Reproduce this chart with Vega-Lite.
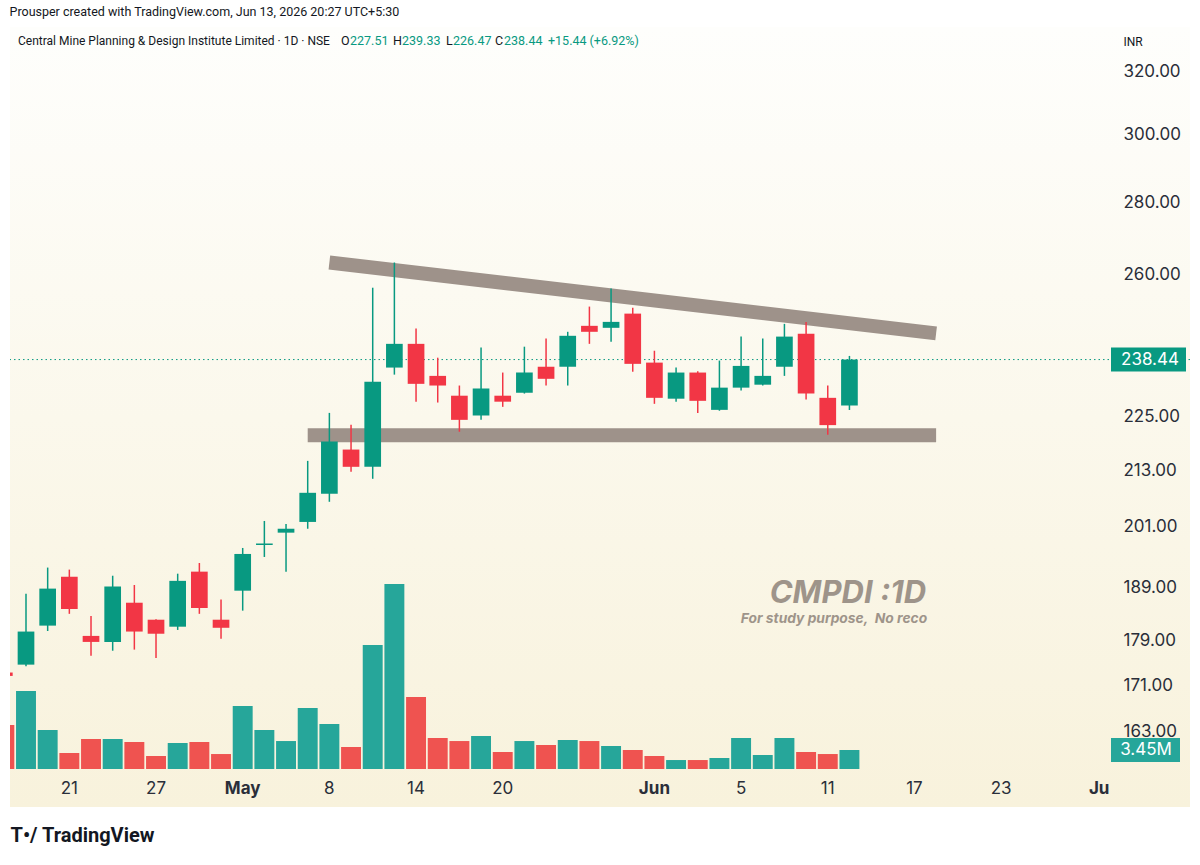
{
  "$schema": "https://vega.github.io/schema/vega-lite/v6.json",
  "width": 1180,
  "height": 780,
  "autosize": {"type": "none"},
  "padding": {"left": 10, "top": 27, "right": 10, "bottom": 58},
  "background": "#ffffff",
  "title": {
    "text": "Prousper created with TradingView.com, Jun 13, 2026 20:27 UTC+5:30",
    "anchor": "start",
    "font": "Roboto",
    "fontSize": 12.5,
    "fontWeight": "normal",
    "color": "#131722",
    "baseline": "middle",
    "offset": 3
  },
  "config": {"view": {"stroke": null}, "font": "Roboto"},
  "datasets": {
    "ohlc": [
      {"date": "2026-04-16", "open": 173.2, "high": 174.6, "low": 171.8, "close": 172.6, "volume": 7990000},
      {"date": "2026-04-17", "open": 174.6, "high": 187.7, "low": 174.3, "close": 180.6, "volume": 14160000},
      {"date": "2026-04-20", "open": 181.7, "high": 192.8, "low": 180.7, "close": 188.7, "volume": 7080000},
      {"date": "2026-04-21", "open": 191.0, "high": 192.4, "low": 183.9, "close": 184.8, "volume": 2910000},
      {"date": "2026-04-22", "open": 179.8, "high": 183.5, "low": 176.2, "close": 178.7, "volume": 5450000},
      {"date": "2026-04-23", "open": 178.7, "high": 191.2, "low": 177.1, "close": 189.1, "volume": 5450000},
      {"date": "2026-04-24", "open": 186.0, "high": 189.4, "low": 177.3, "close": 180.6, "volume": 4900000},
      {"date": "2026-04-27", "open": 182.8, "high": 182.9, "low": 175.8, "close": 180.2, "volume": 2360000},
      {"date": "2026-04-28", "open": 181.5, "high": 191.6, "low": 180.9, "close": 190.2, "volume": 4720000},
      {"date": "2026-04-29", "open": 192.0, "high": 193.7, "low": 183.9, "close": 185.0, "volume": 4900000},
      {"date": "2026-04-30", "open": 182.8, "high": 186.6, "low": 179.3, "close": 181.3, "volume": 2720000},
      {"date": "2026-05-04", "open": 188.3, "high": 196.7, "low": 184.5, "close": 195.5, "volume": 11440000},
      {"date": "2026-05-05", "open": 197.3, "high": 202.2, "low": 194.9, "close": 197.6, "volume": 7080000},
      {"date": "2026-05-06", "open": 199.8, "high": 201.6, "low": 192.0, "close": 200.6, "volume": 5080000},
      {"date": "2026-05-07", "open": 202.0, "high": 215.0, "low": 200.6, "close": 208.1, "volume": 11080000},
      {"date": "2026-05-08", "open": 207.9, "high": 225.8, "low": 206.2, "close": 219.3, "volume": 8170000},
      {"date": "2026-05-11", "open": 217.5, "high": 223.1, "low": 212.6, "close": 213.7, "volume": 4000000},
      {"date": "2026-05-12", "open": 213.7, "high": 256.6, "low": 211.1, "close": 233.1, "volume": 22520000},
      {"date": "2026-05-13", "open": 236.5, "high": 263.3, "low": 234.8, "close": 242.3, "volume": 33590000},
      {"date": "2026-05-14", "open": 242.3, "high": 246.1, "low": 228.4, "close": 232.6, "volume": 13070000},
      {"date": "2026-05-15", "open": 234.5, "high": 238.9, "low": 228.2, "close": 232.2, "volume": 5630000},
      {"date": "2026-05-18", "open": 229.8, "high": 232.2, "low": 221.5, "close": 224.2, "volume": 5080000},
      {"date": "2026-05-19", "open": 225.2, "high": 241.4, "low": 224.2, "close": 231.5, "volume": 5990000},
      {"date": "2026-05-20", "open": 229.8, "high": 235.3, "low": 227.2, "close": 228.4, "volume": 3090000},
      {"date": "2026-05-21", "open": 230.5, "high": 241.6, "low": 230.3, "close": 235.3, "volume": 5080000},
      {"date": "2026-05-22", "open": 236.7, "high": 243.6, "low": 232.2, "close": 233.8, "volume": 4360000},
      {"date": "2026-05-25", "open": 236.7, "high": 245.3, "low": 232.2, "close": 244.3, "volume": 5270000},
      {"date": "2026-05-26", "open": 246.8, "high": 251.7, "low": 242.3, "close": 245.3, "volume": 5080000},
      {"date": "2026-05-28", "open": 246.3, "high": 256.4, "low": 242.8, "close": 247.8, "volume": 4180000},
      {"date": "2026-05-29", "open": 249.9, "high": 251.4, "low": 235.5, "close": 237.4, "volume": 3450000},
      {"date": "2026-06-01", "open": 237.7, "high": 240.6, "low": 227.9, "close": 229.3, "volume": 2360000},
      {"date": "2026-06-02", "open": 229.1, "high": 236.5, "low": 228.4, "close": 235.3, "volume": 1630000},
      {"date": "2026-06-03", "open": 235.3, "high": 235.6, "low": 225.8, "close": 228.6, "volume": 1630000},
      {"date": "2026-06-04", "open": 226.5, "high": 238.2, "low": 226.3, "close": 231.7, "volume": 2000000},
      {"date": "2026-06-05", "open": 231.7, "high": 244.1, "low": 231.0, "close": 236.9, "volume": 5630000},
      {"date": "2026-06-08", "open": 232.4, "high": 243.6, "low": 232.2, "close": 234.5, "volume": 2540000},
      {"date": "2026-06-09", "open": 236.7, "high": 247.3, "low": 234.5, "close": 244.1, "volume": 5630000},
      {"date": "2026-06-10", "open": 244.8, "high": 247.8, "low": 228.9, "close": 230.3, "volume": 3090000},
      {"date": "2026-06-11", "open": 229.3, "high": 232.2, "low": 220.8, "close": 223.0, "volume": 2720000},
      {"date": "2026-06-12", "open": 227.51, "high": 239.33, "low": 226.47, "close": 238.44, "volume": 3450000}
    ],
    "lines": [
      {"line": "resistance", "date": "2026-05-08", "price": 263.3},
      {"line": "resistance", "date": "2026-06-18", "price": 244.9},
      {"line": "support", "date": "2026-05-07", "price": 220.7},
      {"line": "support", "date": "2026-06-18", "price": 220.7}
    ]
  },
  "data": {"name": "ohlc"},
  "resolve": {"scale": {"y": "independent"}},
  "layer": [
    {
      "layer": [
        {
          "data": {"values": [{}]},
          "mark": {
            "type": "rect",
            "fill": {
              "gradient": "linear", "x1": 0, "y1": 0, "x2": 0, "y2": 1,
              "stops": [{"offset": 0, "color": "#fefefc"}, {"offset": 1, "color": "#f8f2dc"}]
            }
          },
          "encoding": {}
        },
        {
          "data": {"name": "lines"},
          "mark": {"type": "line", "strokeWidth": 14, "strokeCap": "butt", "color": "#9e928a", "clip": true},
          "encoding": {
            "x": {
              "field": "date", "type": "ordinal", "title": "T•/  TradingView",
              "scale": {
                "type": "band", "paddingInner": 0, "paddingOuter": 0, "range": [-16.5, 1110.3],
                "domain": ["2026-04-16","2026-04-17","2026-04-20","2026-04-21","2026-04-22","2026-04-23","2026-04-24","2026-04-27","2026-04-28","2026-04-29","2026-04-30","2026-05-04","2026-05-05","2026-05-06","2026-05-07","2026-05-08","2026-05-11","2026-05-12","2026-05-13","2026-05-14","2026-05-15","2026-05-18","2026-05-19","2026-05-20","2026-05-21","2026-05-22","2026-05-25","2026-05-26","2026-05-28","2026-05-29","2026-06-01","2026-06-02","2026-06-03","2026-06-04","2026-06-05","2026-06-08","2026-06-09","2026-06-10","2026-06-11","2026-06-12","2026-06-15","2026-06-16","2026-06-17","2026-06-18","2026-06-19","2026-06-22","2026-06-23","2026-06-24","2026-06-25","2026-06-29","2026-06-30","2026-07-01"]
              },
              "axis": {
                "orient": "bottom", "offset": -38, "zindex": 2,
                "values": ["2026-04-21","2026-04-27","2026-05-04","2026-05-08","2026-05-14","2026-05-20","2026-06-01","2026-06-05","2026-06-11","2026-06-17","2026-06-23","2026-07-01"],
                "labelExpr": "datum.value == '2026-05-04' ? 'May' : datum.value == '2026-06-01' ? 'Jun' : datum.value == '2026-07-01' ? 'Ju' : '' + toNumber(slice(datum.value, 8))",
                "labelFontWeight": {"condition": {"test": "indexof(['2026-05-04','2026-06-01','2026-07-01'], datum.value) >= 0", "value": "bold"}, "value": "normal"},
                "labelAlign": {"condition": {"test": "datum.value == '2026-07-01'", "value": "right"}, "value": "center"},
                "labelAngle": 0, "labelFont": "Inter", "labelFontSize": 17, "labelColor": "#2a2e39", "labelPadding": 19,
                "labelBaseline": "middle", "labelOverlap": false,
                "ticks": false, "domain": false, "grid": false,
                "titleX": 0, "titleY": 66, "titleAlign": "left", "titleBaseline": "middle",
                "titleFont": "Roboto", "titleFontSize": 20, "titleFontWeight": "bold", "titleColor": "#131722"
              }
            },
            "y": {
              "field": "price", "type": "quantitative", "title": "INR",
              "scale": {"type": "log", "domain": [150.97, 334.9], "nice": false, "zero": false},
              "axis": {
                "orient": "right", "offset": -80, "zindex": 2,
                "values": [163, 171, 179, 189, 201, 213, 225, 260, 280, 300, 320],
                "format": ".2f", "labelFont": "Inter", "labelFontSize": 17, "labelColor": "#2a2e39",
                "labelAlign": "left", "labelPadding": 13,
                "ticks": false, "domain": false, "grid": false,
                "titleAngle": 0, "titleX": 13, "titleY": 14, "titleAlign": "left", "titleBaseline": "middle",
                "titleFont": "Roboto", "titleFontSize": 12, "titleFontWeight": "normal", "titleColor": "#131722"
              }
            },
            "detail": {"field": "line"}
          }
        },
        {
          "transform": [{"filter": "datum.date == '2026-06-12'"}],
          "mark": {"type": "rule", "color": "#089981", "strokeWidth": 1, "strokeDash": [1.5, 3]},
          "encoding": {"y": {"field": "close", "type": "quantitative", "title": "INR"}}
        },
        {
          "mark": {"type": "rule", "strokeWidth": 1.5, "clip": true},
          "encoding": {
            "x": {"field": "date", "type": "ordinal", "title": "T•/  TradingView"},
            "y": {"field": "low", "type": "quantitative", "title": "INR"},
            "y2": {"field": "high"},
            "color": {"condition": {"test": "datum.close >= datum.open", "value": "#089981"}, "value": "#f23645"}
          }
        },
        {
          "mark": {"type": "bar", "width": {"band": 0.77}, "clip": true},
          "encoding": {
            "x": {"field": "date", "type": "ordinal", "title": "T•/  TradingView"},
            "y": {"field": "open", "type": "quantitative", "title": "INR"},
            "y2": {"field": "close"},
            "color": {"condition": {"test": "datum.close >= datum.open", "value": "#089981"}, "value": "#f23645"}
          }
        },
        {
          "data": {"values": [{"note": "CMPDI :1D"}]},
          "mark": {"type": "text", "align": "right", "baseline": "middle", "dx": -10, "font": "Inter", "fontSize": 31, "fontWeight": "bold", "fontStyle": "italic", "color": "#9e948a"},
          "encoding": {
            "x": {"datum": "2026-06-18", "type": "ordinal"},
            "y": {"datum": 187.7, "type": "quantitative"},
            "text": {"field": "note"}
          }
        },
        {
          "data": {"values": [{"note": "For study purpose,\u00a0 No reco"}]},
          "mark": {"type": "text", "align": "right", "baseline": "middle", "dx": -9, "font": "Inter", "fontSize": 13.8, "fontWeight": "bold", "fontStyle": "italic", "color": "#9e948a"},
          "encoding": {
            "x": {"datum": "2026-06-18", "type": "ordinal"},
            "y": {"datum": 183.0, "type": "quantitative"},
            "text": {"field": "note"}
          }
        },
        {
          "data": {"values": [{"name": "Central Mine Planning & Design Institute Limited · 1D · NSE"}]},
          "mark": {"type": "text", "align": "left", "baseline": "middle", "dx": -8, "fontSize": 12, "color": "#131722"},
          "encoding": {
            "x": {"datum": "2026-04-17", "type": "ordinal"},
            "y": {"datum": 330.3, "type": "quantitative"},
            "text": {"field": "name"}
          }
        },
        {
          "transform": [{"filter": "datum.date == '2026-06-12'"}],
          "mark": {"type": "text", "align": "left", "baseline": "middle", "dx": 315, "fontSize": 12.5, "color": "#131722", "text": "O"},
          "encoding": {"x": {"datum": "2026-04-17", "type": "ordinal"}, "y": {"datum": 330.3, "type": "quantitative"}}
        },
        {
          "transform": [{"filter": "datum.date == '2026-06-12'"}],
          "mark": {"type": "text", "align": "left", "baseline": "middle", "dx": 324, "fontSize": 12.5, "color": "#089981"},
          "encoding": {"x": {"datum": "2026-04-17", "type": "ordinal"}, "y": {"datum": 330.3, "type": "quantitative"}, "text": {"field": "open", "format": ".2f"}}
        },
        {
          "transform": [{"filter": "datum.date == '2026-06-12'"}],
          "mark": {"type": "text", "align": "left", "baseline": "middle", "dx": 367, "fontSize": 12.5, "color": "#131722", "text": "H"},
          "encoding": {"x": {"datum": "2026-04-17", "type": "ordinal"}, "y": {"datum": 330.3, "type": "quantitative"}}
        },
        {
          "transform": [{"filter": "datum.date == '2026-06-12'"}],
          "mark": {"type": "text", "align": "left", "baseline": "middle", "dx": 376, "fontSize": 12.5, "color": "#089981"},
          "encoding": {"x": {"datum": "2026-04-17", "type": "ordinal"}, "y": {"datum": 330.3, "type": "quantitative"}, "text": {"field": "high", "format": ".2f"}}
        },
        {
          "transform": [{"filter": "datum.date == '2026-06-12'"}],
          "mark": {"type": "text", "align": "left", "baseline": "middle", "dx": 420, "fontSize": 12.5, "color": "#131722", "text": "L"},
          "encoding": {"x": {"datum": "2026-04-17", "type": "ordinal"}, "y": {"datum": 330.3, "type": "quantitative"}}
        },
        {
          "transform": [{"filter": "datum.date == '2026-06-12'"}],
          "mark": {"type": "text", "align": "left", "baseline": "middle", "dx": 427, "fontSize": 12.5, "color": "#089981"},
          "encoding": {"x": {"datum": "2026-04-17", "type": "ordinal"}, "y": {"datum": 330.3, "type": "quantitative"}, "text": {"field": "low", "format": ".2f"}}
        },
        {
          "transform": [{"filter": "datum.date == '2026-06-12'"}],
          "mark": {"type": "text", "align": "left", "baseline": "middle", "dx": 469, "fontSize": 12.5, "color": "#131722", "text": "C"},
          "encoding": {"x": {"datum": "2026-04-17", "type": "ordinal"}, "y": {"datum": 330.3, "type": "quantitative"}}
        },
        {
          "transform": [{"filter": "datum.date == '2026-06-12'"}],
          "mark": {"type": "text", "align": "left", "baseline": "middle", "dx": 478, "fontSize": 12.5, "color": "#089981"},
          "encoding": {"x": {"datum": "2026-04-17", "type": "ordinal"}, "y": {"datum": 330.3, "type": "quantitative"}, "text": {"field": "close", "format": ".2f"}}
        },
        {
          "transform": [{"filter": "datum.date == '2026-06-12'"}],
          "mark": {"type": "text", "align": "left", "baseline": "middle", "dx": 522, "fontSize": 12.5, "color": "#089981", "text": "+15.44 (+6.92%)"},
          "encoding": {"x": {"datum": "2026-04-17", "type": "ordinal"}, "y": {"datum": 330.3, "type": "quantitative"}}
        },
        {
          "transform": [{"filter": "datum.date == '2026-06-12'"}],
          "mark": {"type": "point", "shape": "M-1.975,-0.3L-0.1,-0.3L-0.1,0.3L-1.975,0.3Z", "size": 6400, "filled": true, "opacity": 1, "strokeWidth": 0, "color": "#089981"},
          "encoding": {"x": {"value": "width"}, "y": {"field": "close", "type": "quantitative", "title": "INR"}}
        },
        {
          "transform": [{"filter": "datum.date == '2026-06-12'"}],
          "mark": {"type": "text", "align": "center", "baseline": "middle", "dx": -40, "font": "Inter", "fontSize": 17, "color": "#ffffff"},
          "encoding": {"x": {"value": "width"}, "y": {"field": "close", "type": "quantitative", "title": "INR"}, "text": {"field": "close", "format": ".2f"}}
        }
      ]
    },
    {
      "layer": [
        {
          "mark": {"type": "bar", "width": {"band": 0.92}, "clip": true},
          "encoding": {
            "x": {"field": "date", "type": "ordinal", "title": "T•/  TradingView"},
            "y": {"field": "volume", "type": "quantitative", "scale": {"domain": [-6900000, 134760000], "nice": false, "zero": false}, "axis": null},
            "y2": {"datum": 0},
            "color": {"condition": {"test": "datum.close >= datum.open", "value": "#26a69a"}, "value": "#ef5350"}
          }
        },
        {
          "transform": [{"filter": "datum.date == '2026-06-12'"}],
          "mark": {"type": "point", "shape": "M-1.975,-0.3L-0.25,-0.3L-0.25,0.3L-1.975,0.3Z", "size": 6400, "filled": true, "opacity": 1, "strokeWidth": 0, "color": "#26a69a"},
          "encoding": {"x": {"value": "width"}, "y": {"field": "volume", "type": "quantitative"}}
        },
        {
          "transform": [{"filter": "datum.date == '2026-06-12'"}],
          "mark": {"type": "text", "align": "center", "baseline": "middle", "dx": -44, "font": "Inter", "fontSize": 17, "color": "#ffffff"},
          "encoding": {"x": {"value": "width"}, "y": {"field": "volume", "type": "quantitative"}, "text": {"field": "volume", "format": ".3s"}}
        }
      ]
    }
  ]
}
